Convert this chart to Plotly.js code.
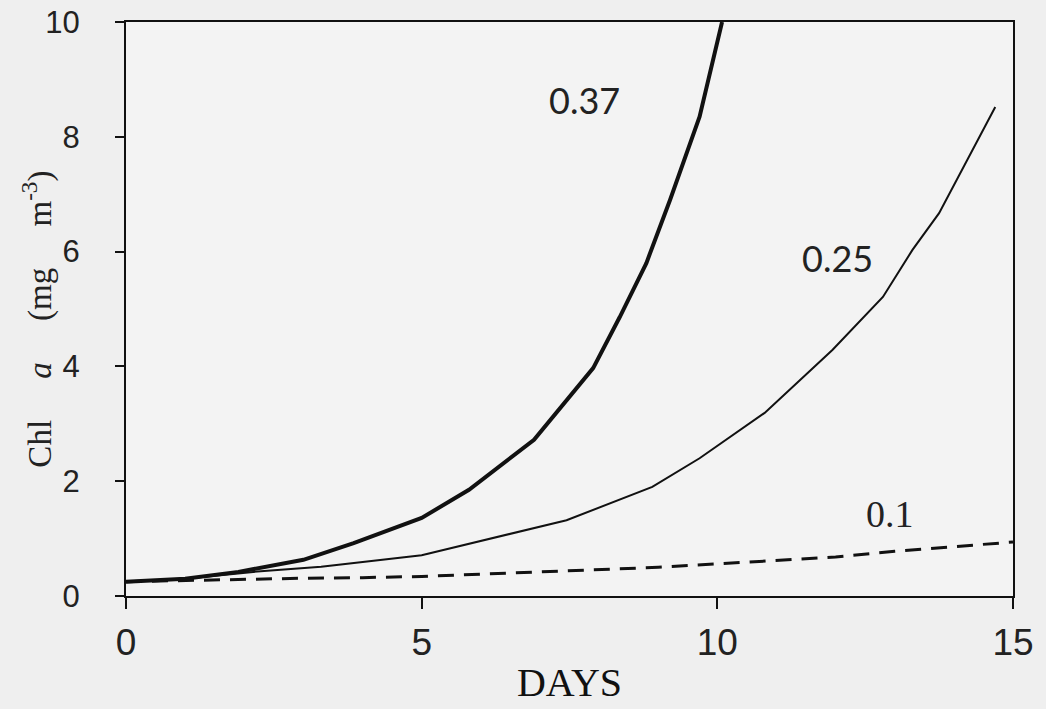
<!DOCTYPE html>
<html>
<head>
<meta charset="utf-8">
<script src="https://cdn.plot.ly/plotly-3.0.1.min.js"></script>
<style>html,body{margin:0;padding:0;background:#efefef;}</style>
</head>
<body>
<div id="chart" style="width:1046px;height:709px;"></div>
<script>
// Data (days vs Chl a, mg m^-3)
const days037 = [0, 1, 1.9, 3, 3.85, 5, 5.8, 6.9, 7.9, 8.35, 8.8, 9.2, 9.7, 10.08];
const chl037  = [0.25, 0.30, 0.42, 0.63, 0.92, 1.36, 1.85, 2.72, 3.97, 4.86, 5.8, 6.9, 8.35, 10];

const days025 = [0, 1, 2.15, 3.3, 5, 6.3, 7.45, 8.9, 9.7, 10.8, 11.95, 12.8, 13.3, 13.75, 14.7];
const chl025  = [0.25, 0.30, 0.42, 0.51, 0.71, 1.03, 1.32, 1.9, 2.4, 3.19, 4.29, 5.21, 6.03, 6.67, 8.52];

const days01 = [0, 1, 2, 3, 4, 5, 6, 7, 8, 9, 10, 11, 12, 13, 14, 15];
const chl01  = [0.25, 0.27, 0.30, 0.31, 0.32, 0.34, 0.38, 0.42, 0.45, 0.50, 0.56, 0.62, 0.68, 0.78, 0.86, 0.94];

const curveLabels = ['0.37', '0.25', '0.1'];
const labelX = [7.75, 12.03, 12.92];
const labelY = [8.64, 5.89, 1.43];

const xTicks = [0, 5, 10, 15];
const yTicks = [0, 2, 4, 6, 8, 10];

const xTitle = 'DAYS';
const gap = '&#160;&#160;&#160;&#160;&#160;';
const yTitle = 'Chl' + gap + '<i>a</i>' + gap + '(mg' + gap + 'm<sup>-3</sup>)';

const traces = [
  {x: days037, y: chl037, mode: 'lines', line: {color: '#111', width: 4}, showlegend: false},
  {x: days025, y: chl025, mode: 'lines', line: {color: '#111', width: 2}, showlegend: false},
  {x: days01, y: chl01, mode: 'lines', line: {color: '#111', width: 3, dash: '16px,10px'}, showlegend: false}
];

const labelFonts = [
  {family: 'Lato, "Open Sans", sans-serif', size: 36, color: '#222'},
  {family: 'Lato, "Open Sans", sans-serif', size: 36, color: '#222'},
  {family: '"Liberation Serif", serif', size: 38, color: '#222'}
];

const annotations = curveLabels.map((t, i) => ({
  x: labelX[i], y: labelY[i], xref: 'x', yref: 'y', text: t,
  showarrow: false, font: labelFonts[i]
}));

annotations.push({
  xref: 'paper', yref: 'paper', x: -0.1, y: 0.482, text: yTitle, textangle: -90,
  showarrow: false, xanchor: 'center', yanchor: 'middle',
  font: {family: '"Liberation Serif", serif', size: 33, color: '#222'}
});

const layout = {
  width: 1046, height: 709,
  paper_bgcolor: '#efefef', plot_bgcolor: '#f3f3f3',
  margin: {l: 126, r: 33, t: 22, b: 113},
  xaxis: {
    range: [0, 15], tickvals: xTicks, ticks: 'outside', ticklen: 11, tickwidth: 2, tickcolor: '#111',
    showline: true, mirror: true, linecolor: '#111', linewidth: 2, showgrid: false, zeroline: false,
    tickfont: {family: '"Liberation Sans", Arial, sans-serif', size: 37, color: '#222'},
    ticklabelstandoff: 2,
    title: {text: xTitle, font: {family: '"Liberation Serif", serif', size: 40, color: '#111'}, standoff: 6}
  },
  yaxis: {
    range: [0, 10], tickvals: yTicks, ticks: 'outside', ticklen: 9, tickwidth: 2, tickcolor: '#111',
    showline: true, mirror: true, linecolor: '#111', linewidth: 2, showgrid: false, zeroline: false,
    tickfont: {family: '"Liberation Sans", Arial, sans-serif', size: 31, color: '#222'},
    ticklabelstandoff: 29
  },
  annotations: annotations
};

Plotly.newPlot('chart', traces, layout, {displayModeBar: false, staticPlot: true});
</script>
</body>
</html>
